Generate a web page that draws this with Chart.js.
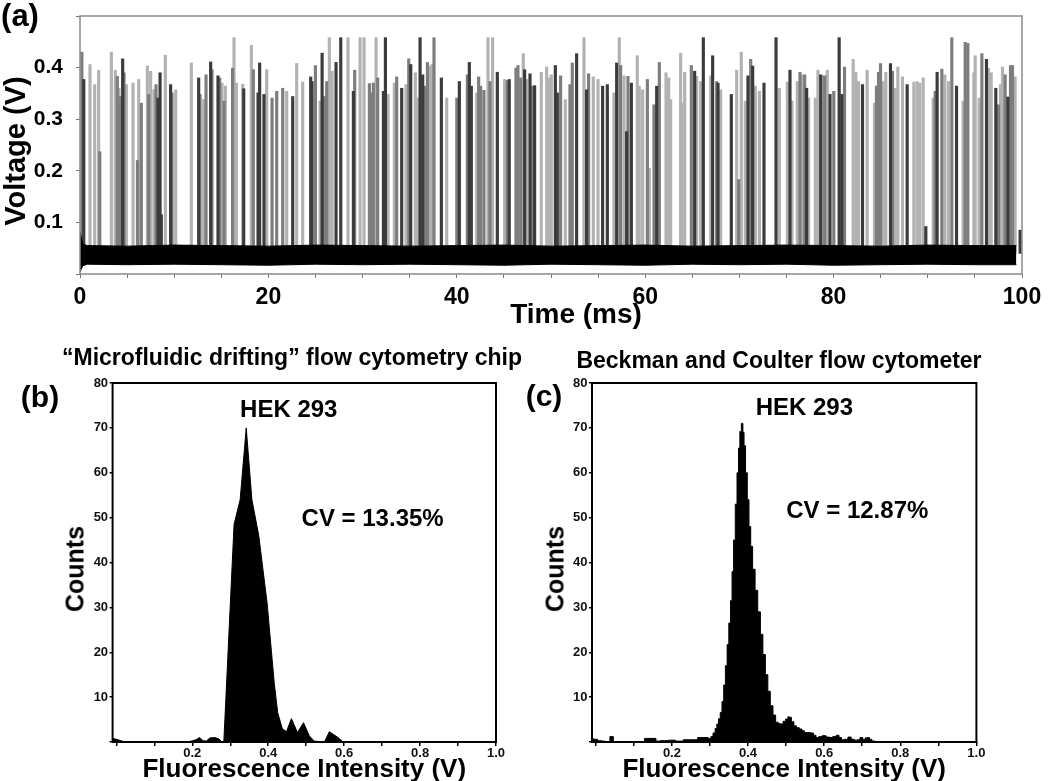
<!DOCTYPE html>
<html>
<head>
<meta charset="utf-8">
<title>HEK 293 – microfluidic drifting flow cytometry</title>
<script src="https://cdn.jsdelivr.net/npm/chart.js@4.4.1/dist/chart.umd.min.js"></script>
<style>
  body { margin: 0; background: #fff; }
  #page { position: relative; width: 1050px; height: 781px; overflow: hidden; font-family: 'Liberation Sans', Arial, sans-serif; }
  canvas { position: absolute; }
  #traceChart { left: 0; top: 0; }
  #chipChart { left: 0; top: 340px; }
  #bcChart { left: 520px; top: 340px; }
  .lbl { position: absolute; font-weight: bold; line-height: 1; white-space: nowrap; transform: translate(-50%, -50%); color: #000; }
  .lbl.vert { transform: translate(-50%, -50%) rotate(-90deg); }
</style>
</head>
<body>
<div id="page">
  <canvas id="traceChart" width="1050" height="330"></canvas>
  <canvas id="chipChart" width="520" height="441"></canvas>
  <canvas id="bcChart" width="530" height="441"></canvas>
  <div class="lbl" style="left:20px;top:15px;font-size:31px">(a)</div>
  <div class="lbl vert" style="left:15px;top:151px;font-size:29px">Voltage (V)</div>
  <div class="lbl" style="left:576px;top:314px;font-size:28px">Time (ms)</div>
  <div class="lbl" style="left:40px;top:397px;font-size:30px">(b)</div>
  <div class="lbl" style="left:544px;top:396px;font-size:30px">(c)</div>
  <div class="lbl" style="left:292px;top:357px;font-size:23px">“Microfluidic drifting” flow cytometry chip</div>
  <div class="lbl" style="left:779px;top:360px;font-size:23px">Beckman and Coulter flow cytometer</div>
  <div class="lbl vert" style="left:75px;top:569px;font-size:25px">Counts</div>
  <div class="lbl vert" style="left:555px;top:569px;font-size:25px">Counts</div>
</div>
<script>
const FONT = "'Liberation Sans', Arial, sans-serif";

// ---- panel (a): detector voltage vs time ----
const traceTicks = [0, 5, 10, 15, 20, 25, 30, 35, 40, 45, 50, 55, 60, 65, 70, 75, 80, 85, 90, 95, 100];
const traceTickLabels = ['0', '', '', '', '20', '', '', '', '40', '', '', '', '60', '', '', '', '80', '', '', '', '100'];
const voltTicks = [0, 0.1, 0.2, 0.3, 0.4, 0.5];
const voltTickLabels = ['', '0.1', '0.2', '0.3', '0.4', ''];

// noise floor envelope
const bandTimes = [0, 0.3, 0.8, 5, 10, 15, 20, 25, 30, 35, 40, 45, 50, 55, 60, 65, 70, 75, 80, 85, 90, 95, 99.4];
const bandHigh = [0.082, 0.058, 0.055, 0.054, 0.056, 0.055, 0.054, 0.056, 0.055, 0.054, 0.055, 0.056, 0.054, 0.055, 0.056, 0.054, 0.055, 0.056, 0.055, 0.054, 0.056, 0.055, 0.055];
const bandLow = [0.004, 0.016, 0.019, 0.018, 0.019, 0.018, 0.017, 0.019, 0.018, 0.019, 0.018, 0.017, 0.019, 0.018, 0.017, 0.019, 0.018, 0.019, 0.017, 0.018, 0.019, 0.018, 0.018];
const spikeBase = 0.04;

// cell events [time ms, peak V], split by trace shade
const spikesLight = [
  [1.06, 0.406], [1.56, 0.367], [1.98, 0.395], [3.33, 0.43], [3.75, 0.395], [4.14, 0.36], [4.92, 0.367],
  [5.63, 0.37], [6.23, 0.377], [7.15, 0.403], [7.5, 0.393], [7.85, 0.357], [9.06, 0.424], [10.16, 0.357],
  [11.82, 0.409], [13.13, 0.338], [15.07, 0.37], [15.43, 0.364], [16.35, 0.458], [16.6, 0.37], [17.27, 0.368],
  [18.19, 0.443], [19.82, 0.396], [21.94, 0.354], [23.0, 0.408], [23.64, 0.372], [25.48, 0.335], [26.47, 0.458],
  [26.76, 0.393], [28.45, 0.458], [29.73, 0.458], [30.15, 0.458], [31.43, 0.458], [32.7, 0.348], [33.37, 0.37],
  [34.61, 0.367], [35.6, 0.39], [35.85, 0.341], [37.16, 0.403], [37.37, 0.406], [38.93, 0.341],
  [42.11, 0.351], [43.31, 0.458], [43.8, 0.458], [45.08, 0.377], [47.06, 0.427], [47.41, 0.377], [48.97, 0.391],
  [49.54, 0.401], [49.75, 0.38], [50.03, 0.386], [51.52, 0.338], [53.5, 0.458], [54.49, 0.382], [54.99, 0.377],
  [56.68, 0.351], [57.25, 0.458], [57.75, 0.384], [59.16, 0.423], [59.37, 0.364], [59.73, 0.357],
  [60.44, 0.205], [62.21, 0.39], [62.49, 0.38], [62.7, 0.338], [63.76, 0.428], [63.9, 0.331], [64.19, 0.391],
  [65.46, 0.383], [65.89, 0.373], [66.95, 0.384], [68.01, 0.357], [69.71, 0.395], [70.2, 0.43], [70.63, 0.335],
  [71.69, 0.364], [72.12, 0.354], [74.24, 0.36], [75.09, 0.372], [75.58, 0.335], [76.15, 0.373], [76.64, 0.386],
  [77.35, 0.341], [78.06, 0.341], [78.34, 0.395], [78.84, 0.384], [79.33, 0.395],
  [82.08, 0.416], [82.36, 0.391], [82.64, 0.373], [83.56, 0.395], [84.34, 0.331], [85.26, 0.373], [85.54, 0.391],
  [86.54, 0.36], [86.82, 0.401], [87.31, 0.382], [88.52, 0.372], [88.87, 0.373], [89.15, 0.37], [89.51, 0.38],
  [90.57, 0.341], [91.81, 0.386], [92.2, 0.373], [93.75, 0.335], [94.89, 0.39], [95.03, 0.423], [95.45, 0.341],
  [96.44, 0.399], [96.73, 0.39], [97.72, 0.367], [97.93, 0.401], [99.27, 0.382]
];
const spikesMid = [
  [0.2, 0.43], [2.1, 0.237], [3.96, 0.383], [4.05, 0.33], [4.32, 0.344], [4.67, 0.39], [6.1, 0.22], [6.51, 0.331],
  [7.29, 0.348], [8.07, 0.367], [9.77, 0.351], [12.74, 0.348], [13.38, 0.386], [14.01, 0.396], [14.83, 0.38],
  [15.29, 0.335], [16.2, 0.399], [18.4, 0.396], [20.39, 0.341], [20.88, 0.354], [21.52, 0.36], [24.99, 0.404],
  [25.94, 0.344], [26.19, 0.373], [29.16, 0.395], [30.72, 0.369], [31.0, 0.351], [31.14, 0.37], [31.6, 0.38],
  [33.62, 0.382], [34.9, 0.417], [36.59, 0.364], [36.88, 0.41], [37.58, 0.458], [40.0, 0.341], [41.12, 0.386],
  [42.32, 0.382], [42.53, 0.364], [42.88, 0.356], [43.52, 0.373], [45.36, 0.375], [46.28, 0.399], [46.49, 0.404],
  [46.78, 0.38], [48.05, 0.364], [51.02, 0.384], [52.01, 0.367], [52.26, 0.409], [53.99, 0.388], [57.39, 0.404],
  [58.17, 0.383], [60.23, 0.377], [60.93, 0.328], [61.5, 0.41], [64.9, 0.404], [67.59, 0.373], [69.92, 0.183],
  [71.2, 0.416], [76.43, 0.391], [76.93, 0.386], [79.05, 0.384], [80.02, 0.354], [81.16, 0.401], [84.55, 0.364],
  [84.77, 0.391], [84.98, 0.408], [86.25, 0.393], [90.78, 0.354], [91.49, 0.397], [92.55, 0.458], [93.97, 0.449],
  [94.25, 0.447], [95.74, 0.427], [97.51, 0.328], [98.21, 0.386], [98.78, 0.404], [98.99, 0.404]
];
const spikesDark = [
  [0.4, 0.377], [4.53, 0.417], [8.28, 0.341], [8.5, 0.39], [8.63, 0.115], [9.62, 0.367], [12.6, 0.38],
  [13.87, 0.411], [14.65, 0.384], [17.38, 0.359], [18.9, 0.351], [19.07, 0.409], [19.53, 0.348], [22.58, 0.344],
  [24.49, 0.382], [24.63, 0.373], [25.7, 0.428], [27.18, 0.41], [27.68, 0.458], [29.02, 0.354], [32.21, 0.354],
  [32.42, 0.458], [34.15, 0.36], [35.11, 0.406], [36.1, 0.458], [36.38, 0.386], [38.36, 0.38], [40.27, 0.373],
  [41.33, 0.41], [41.54, 0.364], [44.3, 0.391], [45.57, 0.377], [47.2, 0.396], [47.77, 0.388], [48.26, 0.365],
  [50.46, 0.404], [50.67, 0.351], [52.72, 0.427], [53.78, 0.357], [55.48, 0.364], [55.98, 0.367], [56.97, 0.409],
  [58.03, 0.276], [58.53, 0.37], [61.22, 0.364], [65.25, 0.393], [66.17, 0.458], [67.16, 0.423], [67.73, 0.37],
  [69.14, 0.348], [70.91, 0.384], [71.41, 0.403], [72.61, 0.37], [73.89, 0.458], [75.37, 0.395], [77.14, 0.36],
  [78.63, 0.386], [79.62, 0.348], [80.59, 0.458], [80.87, 0.348], [83.07, 0.367], [86.04, 0.408], [87.81, 0.367],
  [89.79, 0.092], [90.99, 0.391], [93.05, 0.364], [96.23, 0.416], [97.22, 0.36], [98.5, 0.343], [99.8, 0.085]
];

// ---- panels (b) and (c): fluorescence histograms ----
const histTicks = [0, 0.1, 0.2, 0.3, 0.4, 0.5, 0.6, 0.7, 0.8, 0.9, 1.0];
const histTickLabels = ['', '', '0.2', '', '0.4', '', '0.6', '', '0.8', '', '1.0'];
const countTicks = [0, 10, 20, 30, 40, 50, 60, 70, 80];
const countTickLabels = ['', '10', '20', '30', '40', '50', '60', '70', '80'];

const chipIntensity = [-0.01, 0.0, 0.023, 0.188, 0.21, 0.219, 0.228, 0.237, 0.246, 0.259, 0.27, 0.278, 0.283,
  0.31, 0.326, 0.342, 0.357, 0.375, 0.397, 0.416, 0.425, 0.437, 0.448, 0.461, 0.477, 0.493, 0.508, 0.521,
  0.548, 0.561, 0.584, 0.597, 0.68, 1.0];
const chipCounts = [0.8, 0.6, 0, 0, 0.5, 1.0, 0.3, 0.2, 0.9, 1.0, 0.7, 0, 0,
  48.5, 54, 70, 54, 46, 31, 13, 6.5, 3, 2.3, 5.2, 2.1, 4.3, 1.4, 0.2,
  0, 2.3, 1.0, 0, 0.1, 0];

const bcIntensity = [-0.01, 0.0, 0.01, 0.02, 0.03, 0.044, 0.048, 0.1, 0.156, 0.16, 0.18, 0.2, 0.22, 0.24, 0.26,
  0.275, 0.29, 0.3, 0.305, 0.311, 0.316, 0.32, 0.325, 0.329, 0.334, 0.338, 0.343, 0.347, 0.352, 0.356, 0.36,
  0.364, 0.369, 0.373, 0.377, 0.38, 0.385, 0.388, 0.391, 0.396, 0.4, 0.405, 0.409, 0.415, 0.422, 0.429, 0.436,
  0.442, 0.449, 0.455, 0.462, 0.469, 0.476, 0.482, 0.489, 0.495, 0.502, 0.507, 0.511, 0.517, 0.524, 0.531,
  0.538, 0.545, 0.551, 0.56, 0.569, 0.575, 0.582, 0.59, 0.6, 0.61, 0.618, 0.627, 0.636, 0.642, 0.649, 0.658,
  0.667, 0.675, 0.684, 0.69, 0.698, 0.705, 0.71, 0.716, 0.722, 0.729, 0.74, 1.0];
const bcCounts = [0.7, 0.6, 0.3, 0.2, 0.1, 1.2, 0.1, 0.1, 0.8, 0.2, 0.3, 0.4, 0.2, 0.5, 0.5,
  1.0, 1.0, 0.8, 1.2, 2, 3, 4, 5.2, 6.6, 9, 12.7, 17, 21.7, 26.5, 31.5, 38,
  45, 53, 60, 65.5, 69.2, 71, 69, 66, 60, 54, 48, 43.6, 38.5, 33.8, 29, 24,
  19.5, 15, 11.3, 8.1, 6, 4.4, 4.1, 4, 4.6, 5.1, 5.6, 5.5, 4.5, 3.6, 3.2,
  2.9, 2.5, 2.1, 2.1, 2.0, 1.5, 1.0, 1.2, 1.4, 1.1, 1.0, 1.2, 1.5, 1.0, 0.5, 0.6,
  1.1, 0.6, 0.4, 0.5, 1.0, 0.5, 0.9, 1.0, 0.6, 0.2, 0, 0];

// frame around the plot area
const framePlugin = {
  id: 'frame',
  afterDatasetsDraw(chart, args, opts) {
    const { ctx, chartArea: a } = chart;
    ctx.save();
    ctx.strokeStyle = opts.color;
    ctx.lineWidth = opts.width;
    ctx.strokeRect(a.left, a.top, a.right - a.left, a.bottom - a.top);
    ctx.restore();
  }
};

// text placed at data coordinates
const notesPlugin = {
  id: 'notes',
  afterDraw(chart, args, opts) {
    const { ctx, scales } = chart;
    ctx.save();
    ctx.fillStyle = '#000';
    ctx.font = opts.font;
    ctx.textAlign = 'center';
    ctx.textBaseline = 'middle';
    opts.items.forEach(n => {
      ctx.fillText(n.text, scales.x.getPixelForValue(n.x), scales.y.getPixelForValue(n.y));
    });
    ctx.restore();
  }
};

// layout is set by the page padding, not by the tick label overhang
const noOverhang = s => { s.paddingTop = 0; s.paddingBottom = 0; s.paddingLeft = 0; s.paddingRight = 0; };

const spikeSet = (pairs, color) => ({
  data: pairs.map(([t, v]) => ({ x: t, y: [spikeBase, v] })),
  backgroundColor: color,
  borderWidth: 0,
  barThickness: 2.5,
  grouped: false
});

new Chart(document.getElementById('traceChart'), {
  type: 'bar',
  data: {
    datasets: [
      {
        type: 'line',
        data: bandTimes.map((t, i) => ({ x: t, y: bandHigh[i] })),
        borderColor: '#000', borderWidth: 1, pointRadius: 0, tension: 0,
        backgroundColor: '#000', fill: '+1'
      },
      {
        type: 'line',
        data: bandTimes.map((t, i) => ({ x: t, y: bandLow[i] })),
        borderColor: '#000', borderWidth: 1, pointRadius: 0, tension: 0, fill: false
      },
      spikeSet(spikesDark, '#3b3b3b'),
      spikeSet(spikesMid, '#7d7d7d'),
      spikeSet(spikesLight, '#b2b2b2')
    ]
  },
  options: {
    responsive: false,
    animation: false,
    layout: { padding: { left: 0, top: 16, right: 28, bottom: 0 } },
    plugins: {
      legend: { display: false },
      tooltip: { enabled: false },
      frame: { color: '#8a8a8a', width: 1.5 }
    },
    scales: {
      x: {
        type: 'linear', min: 0, max: 100, offset: false,
        afterBuildTicks: s => { s.ticks = traceTicks.map(v => ({ value: v })); },
        afterFit: s => { s.height = 56; noOverhang(s); },
        grid: { drawOnChartArea: false, offset: false, tickLength: 4, color: '#777' },
        border: { display: false },
        ticks: {
          autoSkip: false, maxRotation: 0, padding: 6, color: '#000',
          font: { family: FONT, size: 23, weight: 'bold' },
          callback: (v, i) => traceTickLabels[i]
        }
      },
      y: {
        type: 'linear', min: 0, max: 0.5,
        afterBuildTicks: s => { s.ticks = voltTicks.map(v => ({ value: v })); },
        afterFit: s => { s.width = 80; noOverhang(s); },
        grid: { drawOnChartArea: false, tickLength: 4, color: '#777' },
        border: { display: false },
        ticks: {
          padding: 13, color: '#000',
          font: { family: FONT, size: 21, weight: 'bold' },
          callback: (v, i) => voltTickLabels[i]
        }
      }
    }
  },
  plugins: [framePlugin]
});

function histChart(id, xs, ys, cfg) {
  return new Chart(document.getElementById(id), {
    type: 'line',
    data: {
      datasets: [{
        data: xs.map((x, i) => ({ x: x, y: ys[i] })),
        borderColor: '#000', borderWidth: 1, backgroundColor: '#000',
        fill: 'origin', pointRadius: 0, tension: 0, stepped: cfg.stepped
      }]
    },
    options: {
      responsive: false,
      animation: false,
      layout: { padding: { left: 0, top: 43, right: cfg.padRight, bottom: 0 } },
      plugins: {
        legend: { display: false },
        tooltip: { enabled: false },
        frame: { color: '#000', width: 2 },
        notes: { font: 'bold 24px ' + FONT, items: cfg.notes }
      },
      scales: {
        x: {
          type: 'linear', min: -0.01, max: 1.0,
          afterBuildTicks: s => { s.ticks = histTicks.map(v => ({ value: v })); },
          afterFit: s => { s.height = 39; noOverhang(s); },
          grid: { drawOnChartArea: false, tickLength: 4, color: '#000', lineWidth: 1.5 },
          border: { display: false },
          ticks: {
            autoSkip: false, maxRotation: 0, padding: 0, color: '#111',
            font: { family: FONT, size: 13, weight: 'bold' },
            callback: (v, i) => histTickLabels[i]
          },
          title: {
            display: true, text: 'Fluorescence Intensity (V)', color: '#000',
            padding: { top: 0, bottom: 0 },
            font: { family: FONT, size: 26, weight: 'bold', lineHeight: 0.85 }
          }
        },
        y: {
          type: 'linear', min: 0, max: 80,
          afterBuildTicks: s => { s.ticks = countTicks.map(v => ({ value: v })); },
          afterFit: s => { s.width = cfg.yWidth; noOverhang(s); },
          grid: { drawOnChartArea: false, tickLength: 3, color: '#000', lineWidth: 1.5 },
          border: { display: false },
          ticks: {
            padding: 1.5, color: '#111',
            font: { family: FONT, size: 13, weight: 'bold' },
            callback: (v, i) => countTickLabels[i]
          }
        }
      }
    },
    plugins: [framePlugin, notesPlugin]
  });
}

histChart('chipChart', chipIntensity, chipCounts, {
  stepped: false, yWidth: 112.6, padRight: 24,
  notes: [{ text: 'HEK 293', x: 0.454, y: 74 }, { text: 'CV = 13.35%', x: 0.675, y: 49.5 }]
});

histChart('bcChart', bcIntensity, bcCounts, {
  stepped: 'middle', yWidth: 72, padRight: 73.6,
  notes: [{ text: 'HEK 293', x: 0.548, y: 74.3 }, { text: 'CV = 12.87%', x: 0.687, y: 51.5 }]
});
</script>
</body>
</html>
